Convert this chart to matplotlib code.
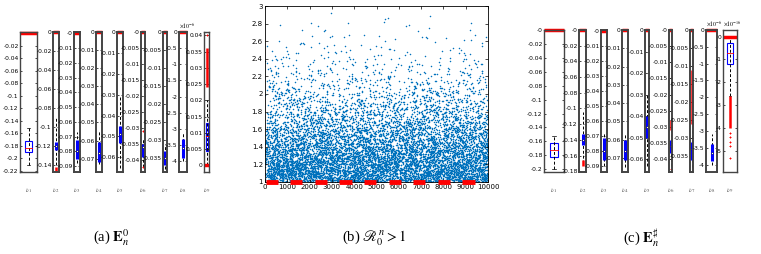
import numpy as np
import matplotlib
matplotlib.use("Agg")
import matplotlib.pyplot as plt

plt.rcParams['mathtext.fontset'] = 'stix'
plt.rcParams['font.family'] = ['DejaVu Sans']

W, H = 761, 254

# ---------------- data ----------------
# boxplot summaries: (whisker_lo, q1, median, q3, whisker_hi)
box_a = [(-0.21, -0.19, -0.183, -0.172, -0.152),
         (-0.14, -0.124, -0.12, -0.116, -0.09),
         (-0.088, -0.085, -0.08, -0.072, -0.067),
         (-0.073, -0.072, -0.067, -0.061, -0.055),
         (-0.065, -0.053, -0.049, -0.045, -0.031),
         (-0.042, -0.039, -0.036, -0.035, -0.033),
         (-0.038, -0.037, -0.035, -0.033, -0.031),
         (-4.0, -3.9, -3.6, -3.3, -3.1),
         (0.0, 0.0045, 0.009, 0.013, 0.02)]
box_c = [(-0.2, -0.183, -0.172, -0.163, -0.152),
         (-0.17, -0.147, -0.14, -0.132, -0.105),
         (-0.09, -0.086, -0.08, -0.071, -0.067),
         (-0.075, -0.071, -0.066, -0.06, -0.057),
         (-0.063, -0.05, -0.045, -0.04, -0.03),
         (-0.042, -0.038, -0.036, -0.034, -0.031),
         (-0.038, -0.036, -0.033, -0.031, -0.027),
         (-4.0, -3.9, -3.65, -3.4, -3.1),
         (-2.6, -1.2, -0.7, -0.3, 0.0)]
# red outlier bands (lo, hi) and single outliers
out_band_a = [[], [(-0.146, -0.142)], [], [], [], [], [], [], [(0.024, 0.036)]]
out_pts_a = [[0.0], [0.0], [0.0], [0.0], [0.0], [0.0, -0.031, -0.042], [0.0], [0.0], [0.0, 0.04]]
out_band_c = [[], [(-0.173, -0.166)], [], [], [], [(-0.031, -0.028)], [(-0.026, -0.011)], [], [(-4.0, -2.6)]]
out_pts_c = [[0.0], [0.0], [0.0], [0.0], [0.0], [0.0, -0.043], [0.0], [0.0],
             [0.0, -4.2, -4.4, -4.6, -4.8, -5.3]]

ylims_a = [(-0.222, 0.002), (-0.147, 0.0), (-0.094, 0.001), (-0.0774, 0.0), (-0.067, 0.0),
           (-0.0437, 0.0), (-0.0389, 0.0), (-4.33, 0.0), (-0.002, 0.041)]
ylims_c = [(-0.204, 0.0), (-0.181, 0.0), (-0.094, 0.001), (-0.0776, 0.0), (-0.066, 0.0),
           (-0.044, 0.0), (-0.0393, 0.0), (-4.22, 0.0), (-5.92, 0.29)]
ticks_a = [np.arange(-0.22, -0.01, 0.02), np.arange(-0.14, 0.001, 0.02), np.arange(-0.09, 0.001, 0.01),
           np.arange(-0.07, 0.001, 0.01), np.arange(-0.06, 0.001, 0.01), np.arange(-0.04, 0.001, 0.005),
           np.arange(-0.035, 0.001, 0.005), np.arange(-4, 0.01, 0.5), np.arange(0, 0.0401, 0.005)]
ticks_c = [np.arange(-0.2, 0.001, 0.02), np.arange(-0.18, 0.001, 0.02), np.arange(-0.09, 0.001, 0.01),
           np.arange(-0.07, 0.001, 0.01), np.arange(-0.06, 0.001, 0.01), np.arange(-0.04, 0.001, 0.005),
           np.arange(-0.035, 0.001, 0.005), np.arange(-4, 0.01, 0.5), np.arange(-5, 0.01, 1)]
exp_a = [None] * 7 + [r'$\times10^{-6}$', None]
exp_c = [None] * 7 + [r'$\times10^{-6}$', r'$\times10^{-16}$']
full_box = [0, 8]  # axes drawn with open box (wider ones)

# scatter (b): number of points per y-band of width 0.05 starting at 1.0
band_h = 0.05
band_count = [800, 780, 750, 720, 680, 630, 580, 530, 470, 430,
              390, 360, 300, 260, 230, 200, 170, 150, 130, 110,
              92, 78, 66, 54, 46, 39, 33, 27, 22, 18,
              15, 11, 9, 7, 6, 4, 4, 3, 1, 0]
red_segs = [(30, 570), (1140, 1680), (2245, 2770), (3340, 3890), (4450, 4990),
            (5540, 6090), (6650, 7190), (7750, 8290), (8850, 9400)]

# ---------------- layout (pixels) ----------------
xs_a = [(20, 37), (53, 59), (74, 80), (96, 102), (117, 123), (141, 145), (163, 167), (179, 187), (204, 209)]
xs_c = [(544, 564), (579, 586), (601, 607), (622, 628), (645, 649), (669, 672), (690, 693), (706, 717), (723, 737)]

fig = plt.figure(figsize=(W / 100, H / 100), dpi=100)


def px_axes(x0, x1, top, bot):
    return fig.add_axes([x0 / W, 1 - bot / H, (x1 - x0) / W, (bot - top) / H])


def spread(k, a, b):
    # deterministic scatter of positions inside a band (hash of the index)
    v = np.sin(k * a + b) * 43758.5453
    return v - np.floor(v)


def draw_box(ax, stats, full, bands, pts, ylim, ticks, expo, idx):
    lo, q1, med, q3, hi = stats
    ax.set_xlim(0, 1)
    ax.set_ylim(*ylim)
    ax.set_yticks(ticks)
    ax.set_yticklabels(['%g' % round(t, 4) for t in ticks])
    ax.set_xticks([])
    ax.tick_params(axis='y', labelsize=4.3, length=1.5, width=0.5, direction='in', right=True, pad=1)
    for s in ax.spines.values():
        s.set_color('#444444')
        s.set_linewidth(1.0 if full else 1.4)
    ax.plot([0.5, 0.5], [lo, hi], color='k', lw=0.7, ls=(0, (3, 2)))
    if full:
        ax.add_patch(plt.Rectangle((0.3, q1), 0.4, q3 - q1, fill=False, ec='blue', lw=0.8))
        ax.plot([0.3, 0.7], [med, med], color='red', lw=0.6)
        ax.plot([0.42, 0.58], [lo, lo], color='k', lw=0.5)
        ax.plot([0.42, 0.58], [hi, hi], color='k', lw=0.5)
    else:
        ax.plot([0.5, 0.5], [q1, q3], color='blue', lw=2.2, solid_capstyle='butt')
        ax.plot([0.5], [med], marker='o', ms=1.2, color='white', mec='k', mew=0.3)
    for b0, b1 in bands:
        ax.plot([0.5, 0.5], [b0, b1], color='red', lw=1.8, solid_capstyle='butt')
    for p in pts:
        if p == 0.0:
            ax.plot([0, 1], [p, p], color='red', lw=2.5, solid_capstyle='butt', clip_on=False)
        else:
            ax.plot([0.5], [p], marker='+', ms=2, color='red', mew=0.7)
    if expo:
        ax.text(0.0, 1.01, expo, transform=ax.transAxes, fontsize=4.3, ha='left', va='bottom')
    ax.text(0.5, -0.1, r'$\nu_{%d}$' % (idx + 1), transform=ax.transAxes, fontsize=5,
            ha='center', va='top', color='#555555')


for i in range(9):
    ax = px_axes(xs_a[i][0], xs_a[i][1], 32, 172)
    draw_box(ax, box_a[i], i in full_box, out_band_a[i], out_pts_a[i], ylims_a[i], ticks_a[i], exp_a[i], i)
    ax = px_axes(xs_c[i][0], xs_c[i][1], 30, 172)
    draw_box(ax, box_c[i], i in full_box, out_band_c[i], out_pts_c[i], ylims_c[i], ticks_c[i], exp_c[i], i)

# ---------------- scatter panel ----------------
axb = px_axes(265, 488, 6, 182)
sx, sy = [], []
for j, n in enumerate(band_count):
    if n == 0:
        continue
    lo = 1.0 + j * band_h
    k = np.arange(1, n + 1, dtype=float)
    sx.append(spread(k, 12.9898, j * 1.7) * 10000)
    sy.append(lo + spread(k, 78.233, j * 2.3 + 0.5) * band_h)
axb.scatter(np.concatenate(sx), np.concatenate(sy), s=1.2, color='#0072BD', linewidths=0)
for x0, x1 in red_segs:
    axb.plot([x0, x1], [1.0, 1.0], color='red', lw=3.5, solid_capstyle='butt',
             clip_on=False, zorder=5)
axb.set_xlim(0, 10000)
axb.set_ylim(1, 3)
axb.set_xticks(np.arange(0, 10001, 1000))
axb.set_yticks(np.arange(1, 3.01, 0.2))
axb.set_yticklabels(['%g' % round(t, 1) for t in np.arange(1, 3.01, 0.2)])
axb.tick_params(labelsize=5, length=2, width=0.5, direction='in', top=True, right=True, pad=1.5)
for s in axb.spines.values():
    s.set_linewidth(0.6)

# captions
cap = dict(fontsize=10.5, ha='center', va='center', family='Liberation Serif')
fig.text(111 / W, 1 - 238 / H, r'(a) $\mathbf{E}_n^0$', **cap)
fig.text(374 / W, 1 - 238 / H, r'(b) $\mathscr{R}_0^n > 1$', **cap)
fig.text(641 / W, 1 - 238 / H, r'(c) $\mathbf{E}_n^\sharp$', **cap)

fig.savefig('out.png', dpi=100)
